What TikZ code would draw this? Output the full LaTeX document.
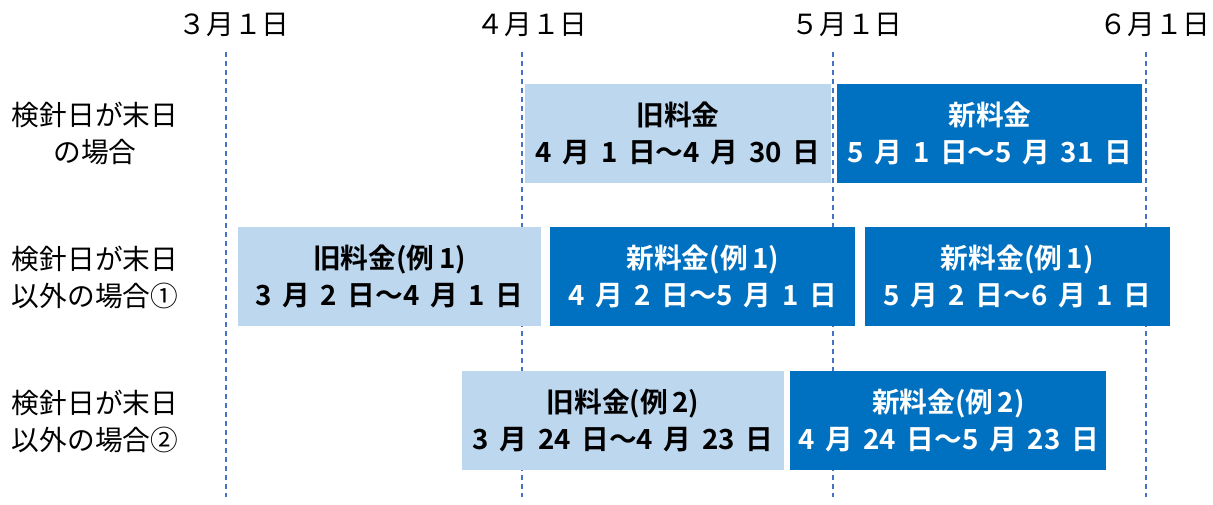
\documentclass[tikz,border=0pt]{standalone}
\usepackage{fontspec}
\usepackage{xcolor}
\usepackage{tikz}
\usetikzlibrary{positioning}
\setmainfont{Noto Sans CJK JP}[BoldFont={Noto Sans CJK JP Bold}, BoldFeatures={WordSpace=1.7}]
\definecolor{oldfee}{HTML}{BDD7EE}
\definecolor{newfee}{HTML}{0070C0}
\definecolor{dateline}{HTML}{4472C4}
\newcommand{\jtext}{\fontsize{27.7}{37}\selectfont}

\begin{document}
\begin{tikzpicture}[x=1pt,y=-1pt,
  every node/.style={font=\jtext, inner sep=0pt, align=center},
  oldbox/.style={fill=oldfee, text=black, font=\jtext\bfseries, minimum height=99pt},
  newbox/.style={fill=newfee, text=white, font=\jtext\bfseries, minimum height=99pt},
  dline/.style={dateline, line width=1.5pt, dash pattern=on 5pt off 4pt}]
\useasboundingbox (0,0) rectangle (1213,504);

\node(d3) at (234,25) {３月１日};
\node(d4) at (532,25) {４月１日};
\node(d5) at (847,25) {５月１日};
\node(d6) at (1155,25) {６月１日};

\coordinate(t3) at (226,52);  \coordinate(b3) at (226,497);
\coordinate(t4) at (522,52);  \coordinate(b4) at (522,497);
\coordinate(t5) at (833,52);  \coordinate(b5) at (833,497);
\coordinate(t6) at (1146,52); \coordinate(b6) at (1146,497);
\draw[dline] (t3) -- (b3) (t4) -- (b4) (t5) -- (b5) (t6) -- (b6);

\node(r1) at (95,133.5) {検針日が末日\\の場合};
\node(r2) at (95,277.5) {検針日が末日\\以外の場合①};
\node(r3) at (95,421.5) {検針日が末日\\以外の場合②};

\node(o1)[oldbox, minimum width=306pt] at (678,133.5) {旧料金\\4 月 1 日～4 月 30 日};
\node(n1)[newbox, minimum width=305pt, right=6pt of o1] {新料金\\5 月 1 日～5 月 31 日};

\node(o2)[oldbox, minimum width=303pt] at (389.5,276.5) {旧料金(例\,1)\\3 月 2 日～4 月 1 日};
\node(n2)[newbox, minimum width=305pt, right=9pt of o2] {新料金(例\,1)\\4 月 2 日～5 月 1 日};
\node(n3)[newbox, minimum width=305pt, right=9pt of n2] {新料金(例\,1)\\5 月 2 日～6 月 1 日};

\node(o3)[oldbox, minimum width=322pt] at (623,420.5) {旧料金(例\,2)\\3 月 24 日～4 月 23 日};
\node(n4)[newbox, minimum width=316pt, right=6pt of o3] {新料金(例\,2)\\4 月 24 日～5 月 23 日};
\end{tikzpicture}
\end{document}
